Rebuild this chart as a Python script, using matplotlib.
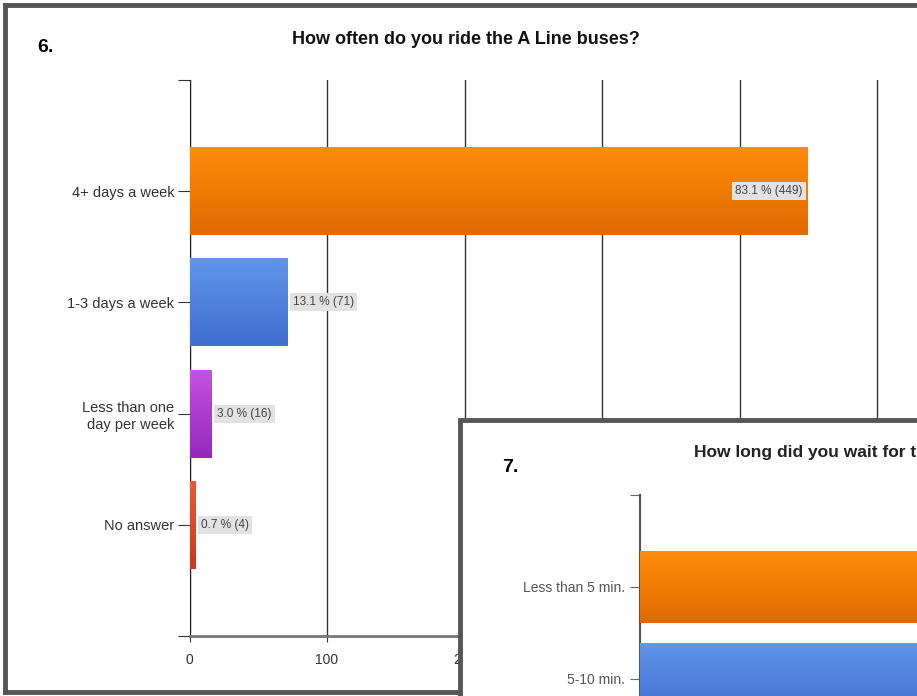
import matplotlib
matplotlib.use('Agg')
import matplotlib.pyplot as plt
import numpy as np
from matplotlib.patches import Rectangle
from matplotlib.colors import LinearSegmentedColormap

# question 6 data
cats6 = ['4+ days a week', '1-3 days a week', 'Less than one\nday per week', 'No answer']
counts6 = [449, 71, 16, 4]
pcts6 = [83.1, 13.1, 3.0, 0.7]
grads6 = [('#ff8c0a', '#e06a00'), ('#6195ea', '#3f6ed0'), ('#c452e2', '#9628bd'), ('#e8593a', '#c83a1e')]

# question 7 data (bars run off the picture)
cats7 = ['Less than 5 min.', '5-10 min.']
counts7 = [262, 224]
grads7 = [('#ff8c0a', '#e06a00'), ('#6195ea', '#3f6ed0')]

W, H = 917, 696
fig = plt.figure(figsize=(W / 100, H / 100), dpi=100)
plt.rcParams['font.family'] = 'Liberation Sans'


def px(x, y):
    return x / W, 1 - y / H


def gradient_bars(ax, bars, grads):
    for b, (c1, c2) in zip(bars, grads):
        x0, y0 = b.get_x(), b.get_y()
        x1, y1 = x0 + b.get_width(), y0 + b.get_height()
        cmap = LinearSegmentedColormap.from_list('g', [c1, c2])
        g = np.linspace(0, 1, 64).reshape(-1, 1)
        ax.imshow(g, cmap=cmap, aspect='auto', origin='upper',
                  extent=[x0, x1, y1, y0], zorder=3)


# ---- main chart (6) ----
ax = fig.add_axes([189.5 / W, (H - 636) / H, 600 * 1.375 / W, 556 / H])
pos = np.arange(len(cats6))
bars = ax.barh(pos, counts6, height=0.79, color=[g[1] for g in grads6], zorder=2)
gradient_bars(ax, bars, grads6)
ax.set_xlim(0, 600)
ax.set_ylim(4, -1)
ax.set_xticks(np.arange(0, 600, 100))
ax.set_yticks([-1, 0, 1, 2, 3, 4])
ax.set_yticklabels([''] + cats6 + [''], fontsize=10.5, color='#333333', linespacing=1.3)
ax.tick_params(axis='y', length=9, color='#333333', pad=2)
ax.tick_params(axis='x', length=4, color='#333333', labelsize=10, labelcolor='#333333', pad=8)
ax.xaxis.grid(True, color='#333333', lw=1, zorder=1)
ax.set_axisbelow(True)
for s in ['top', 'right']:
    ax.spines[s].set_visible(False)
ax.spines['left'].set_color('#222222')
ax.spines['bottom'].set_color('#777777')
ax.spines['bottom'].set_linewidth(2)
for i, (v, p) in enumerate(zip(counts6, pcts6)):
    lab = f'{p:.1f} % ({v})'
    if v > 300:
        ax.annotate(lab, (v, i), xytext=(-3, 0), textcoords='offset points',
                    ha='right', va='center', fontsize=8.5, color='#444444', zorder=5,
                    bbox=dict(boxstyle='square,pad=0.25', fc='#e2e2e2', ec='none'))
    else:
        ax.annotate(lab, (v, i), xytext=(4, 0), textcoords='offset points',
                    ha='left', va='center', fontsize=8.5, color='#444444', zorder=5,
                    bbox=dict(boxstyle='square,pad=0.25', fc='#e2e2e2', ec='none'))

fig.text(*px(466, 40), 'How often do you ride the A Line buses?', ha='center', va='center',
         fontsize=13, fontweight='bold', color='#111111')
fig.text(*px(37, 47), '6.', ha='left', va='center', fontsize=14, fontweight='bold', color='#000000')

# outer frame
for xs, ys in [((5, 5), (5, 692)), ((5, 930), (5, 5)), ((5, 930), (692, 692))]:
    fig.add_artist(plt.Line2D([x / W for x in xs], [1 - y / H for y in ys],
                              color='#555555', lw=3.5, zorder=10))

# ---- overlapping chart (7) ----
box = Rectangle(px(460, 730), 600 / W, 310 / H, transform=fig.transFigure,
                fc='white', ec='#555555', lw=3.5, zorder=20)
fig.add_artist(box)

ax2 = fig.add_axes([640 / W, (H - 771) / H, 300 * 134.5 / W, 276 / H], zorder=30)
ax2.patch.set_alpha(0)
pos7 = np.arange(len(cats7))
bars7 = ax2.barh(pos7, counts7, height=0.78, color=[g[1] for g in grads7], zorder=2)
gradient_bars(ax2, bars7, grads7)
ax2.set_xlim(0, 300)
ax2.set_ylim(2, -1)
ax2.set_xticks([0, 100, 200, 300])
ax2.set_xticklabels([])
ax2.set_yticks([-1, 0, 1])
ax2.set_yticklabels([''] + cats7, fontsize=10, color='#555555')
ax2.tick_params(axis='y', length=7, color='#666666', pad=4)
ax2.xaxis.grid(True, color='#888888', lw=1.5, zorder=1)
ax2.set_axisbelow(True)
for s in ['top', 'right', 'bottom']:
    ax2.spines[s].set_visible(False)
ax2.spines['left'].set_color('#555555')
ax2.spines['left'].set_linewidth(1.5)

fig.text(*px(694, 453), 'How long did you wait for the bus?', ha='left', va='center',
         fontsize=12.5, fontweight='bold', color='#222222', zorder=40)
fig.text(*px(502, 467), '7.', ha='left', va='center', fontsize=14, fontweight='bold',
         color='#000000', zorder=40)

fig.savefig('out.png', dpi=100)
